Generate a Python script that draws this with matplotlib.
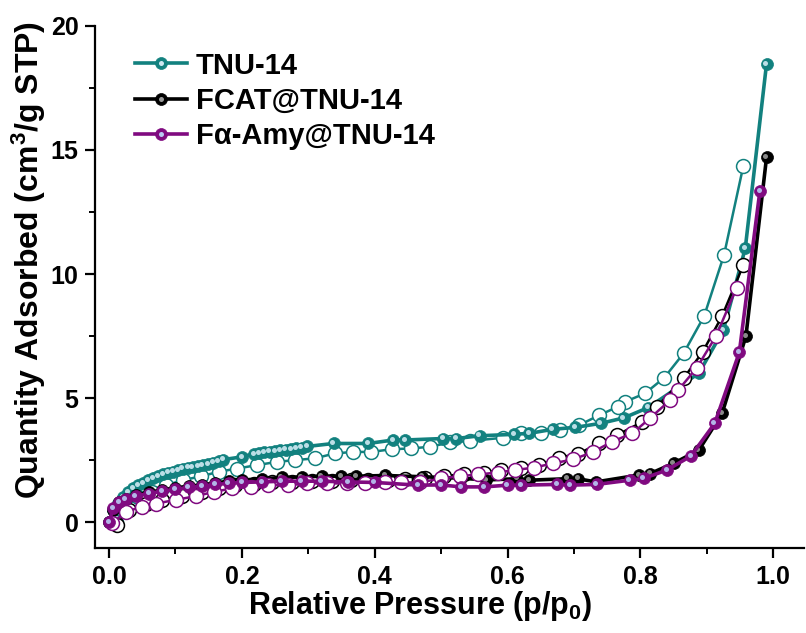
import matplotlib
matplotlib.use("Agg")
import matplotlib.pyplot as plt
from matplotlib.transforms import offset_copy
from matplotlib.legend_handler import HandlerTuple

plt.rcParams['font.family'] = ['Liberation Sans', 'DejaVu Sans']
plt.rcParams['font.weight'] = 'bold'
plt.rcParams['mathtext.fontset'] = 'custom'
plt.rcParams['mathtext.rm'] = 'Liberation Sans:bold'
plt.rcParams['mathtext.it'] = 'Liberation Sans:bold'
plt.rcParams['mathtext.bf'] = 'Liberation Sans:bold'

# ---- N2 sorption isotherms ----
# TNU-14
tnu_ads_p = [0.0, 0.006, 0.014, 0.021, 0.029, 0.036, 0.044, 0.051, 0.059, 0.066,
             0.074, 0.081, 0.089, 0.096, 0.104, 0.111, 0.119, 0.126, 0.134, 0.141,
             0.149, 0.157, 0.165, 0.172, 0.200, 0.218, 0.226, 0.234, 0.242, 0.250,
             0.258, 0.266, 0.274, 0.282, 0.290, 0.298, 0.338, 0.390, 0.428, 0.446,
             0.503, 0.523, 0.558, 0.610, 0.633, 0.668, 0.702, 0.740, 0.775, 0.812,
             0.888, 0.925, 0.958, 0.990]
tnu_ads_v = [0.0, 0.48, 0.78, 1.02, 1.22, 1.36, 1.49, 1.58, 1.69, 1.76,
             1.85, 1.92, 1.99, 2.04, 2.10, 2.15, 2.19, 2.22, 2.26, 2.30,
             2.35, 2.40, 2.45, 2.52, 2.63, 2.75, 2.78, 2.81, 2.84, 2.87,
             2.90, 2.92, 2.95, 2.97, 3.00, 3.05, 3.17, 3.17, 3.31, 3.31,
             3.37, 3.37, 3.48, 3.54, 3.58, 3.74, 3.82, 3.98, 4.20, 4.62,
             6.00, 7.74, 11.04, 18.47]
tnu_des_p = [0.955, 0.926, 0.896, 0.865, 0.836, 0.807, 0.777, 0.766, 0.738, 0.708,
             0.679, 0.651, 0.620, 0.593, 0.543, 0.513, 0.484, 0.455, 0.426, 0.395,
             0.368, 0.340, 0.310, 0.280, 0.253, 0.223, 0.193, 0.165, 0.139, 0.111,
             0.086, 0.064, 0.044, 0.024, 0.010]
tnu_des_v = [14.35, 10.77, 8.30, 6.80, 5.82, 5.19, 4.85, 4.65, 4.31, 3.91,
             3.71, 3.60, 3.58, 3.40, 3.27, 3.21, 3.04, 2.97, 2.94, 2.83,
             2.83, 2.77, 2.57, 2.50, 2.43, 2.30, 2.16, 2.03, 1.85, 1.69,
             1.49, 1.22, 1.00, 0.62, 0.00]

# FCAT@TNU-14
fcat_ads_p = [0.0, 0.006, 0.015, 0.025, 0.040, 0.060, 0.080, 0.100, 0.120, 0.140,
              0.160, 0.180, 0.200, 0.230, 0.260, 0.290, 0.320, 0.350, 0.372, 0.416,
              0.471, 0.530, 0.568, 0.615, 0.633, 0.690, 0.706, 0.733, 0.798, 0.815,
              0.850, 0.888, 0.923, 0.959, 0.990]
fcat_ads_v = [0.0, 0.50, 0.80, 0.95, 1.08, 1.20, 1.30, 1.38, 1.45, 1.50,
              1.58, 1.65, 1.70, 1.74, 1.80, 1.82, 1.85, 1.85, 1.85, 1.88,
              1.83, 1.77, 1.70, 1.75, 1.69, 1.75, 1.75, 1.62, 1.90, 1.96,
              2.37, 2.90, 4.38, 7.50, 14.70]
fcat_des_p = [0.955, 0.923, 0.894, 0.865, 0.825, 0.803, 0.765, 0.738, 0.706, 0.678,
              0.648, 0.620, 0.590, 0.565, 0.535, 0.505, 0.475, 0.445, 0.420, 0.390,
              0.365, 0.335, 0.305, 0.275, 0.245, 0.218, 0.190, 0.165, 0.140, 0.110,
              0.080, 0.055, 0.030, 0.012]
fcat_des_v = [10.36, 8.30, 6.87, 5.79, 4.65, 4.04, 3.51, 3.17, 2.75, 2.60,
              2.30, 2.20, 2.10, 2.00, 1.95, 1.85, 1.78, 1.72, 1.70, 1.70,
              1.68, 1.66, 1.66, 1.62, 1.60, 1.55, 1.50, 1.38, 1.22, 1.05,
              0.90, 0.75, 0.50, -0.10]

# Fα-Amy@TNU-14
amy_ads_p = [0.0, 0.006, 0.015, 0.025, 0.040, 0.060, 0.080, 0.100, 0.120, 0.140,
             0.160, 0.180, 0.200, 0.230, 0.260, 0.290, 0.320, 0.360, 0.400, 0.465,
             0.500, 0.530, 0.565, 0.600, 0.620, 0.675, 0.694, 0.734, 0.784, 0.805,
             0.840, 0.876, 0.912, 0.949, 0.980]
amy_ads_v = [0.0, 0.56, 0.80, 0.92, 1.05, 1.15, 1.25, 1.32, 1.40, 1.45,
             1.52, 1.56, 1.60, 1.62, 1.65, 1.65, 1.65, 1.62, 1.60, 1.49,
             1.50, 1.42, 1.42, 1.49, 1.49, 1.52, 1.49, 1.52, 1.69, 1.76,
             2.10, 2.66, 3.98, 6.84, 13.35]
amy_des_p = [0.945, 0.914, 0.885, 0.857, 0.845, 0.815, 0.788, 0.757, 0.729, 0.699,
             0.669, 0.640, 0.612, 0.585, 0.555, 0.528, 0.500, 0.468, 0.440, 0.415,
             0.385, 0.358, 0.328, 0.298, 0.270, 0.240, 0.213, 0.185, 0.158, 0.131,
             0.101, 0.071, 0.049, 0.026, 0.004]
amy_des_v = [9.45, 7.50, 6.22, 5.32, 4.92, 4.20, 3.58, 3.24, 2.83, 2.53,
             2.37, 2.20, 2.10, 2.00, 1.92, 1.85, 1.76, 1.60, 1.60, 1.60,
             1.56, 1.56, 1.56, 1.56, 1.49, 1.49, 1.42, 1.36, 1.22, 1.05,
             0.90, 0.75, 0.62, 0.42, -0.05]

series_labels = ['TNU-14', 'FCAT@TNU-14', 'F\u03b1-Amy@TNU-14']
teal, black, purple = '#12817f', '#000000', '#800a80'

fig = plt.figure(figsize=(8.06, 6.33), dpi=100)
ax = fig.add_axes([0.118, 0.134, 0.880, 0.825])

hl = offset_copy(ax.transData, fig=fig, x=-1.3, y=1.3, units='dots')


def draw(ads_p, ads_v, des_p, des_v, color, shine, z):
    ax.plot(des_p, des_v, '-', color=color, lw=1.8, marker='o', ms=10,
            mfc='white', mec=color, mew=1.1, zorder=z)
    main, = ax.plot(ads_p, ads_v, '-', color=color, lw=2.6, marker='o', ms=8.6,
                    mfc=color, mec=color, mew=0.5, zorder=z + 1)
    ax.plot(ads_p, ads_v, ls='none', marker='o', ms=3.6, mfc=shine, mec='none',
            alpha=0.9, transform=hl, zorder=z + 1.5)
    glint = ax.plot([], [], ls='none', marker='o', ms=3.6, mfc=shine, mec='none')[0]
    return (main, glint)


h1 = draw(tnu_ads_p, tnu_ads_v, tnu_des_p, tnu_des_v, teal, '#cfe9f2', 3)
h2 = draw(fcat_ads_p, fcat_ads_v, fcat_des_p, fcat_des_v, black, '#9a9a9a', 5)
h3 = draw(amy_ads_p, amy_ads_v, amy_des_p, amy_des_v, purple, '#b9c9f4', 7)

ax.set_xlim(-0.021, 1.047)
ax.set_ylim(-1.05, 20)
ax.set_xticks([0.0, 0.2, 0.4, 0.6, 0.8, 1.0])
ax.set_xticks([0.1, 0.3, 0.5, 0.7, 0.9], minor=True)
ax.set_yticks([0, 5, 10, 15, 20])
ax.set_yticks([2.5, 7.5, 12.5, 17.5], minor=True)
ax.set_xticklabels(['0.0', '0.2', '0.4', '0.6', '0.8', '1.0'])

for s in ('top', 'right'):
    ax.spines[s].set_visible(False)
for s in ('left', 'bottom'):
    ax.spines[s].set_linewidth(1.6)
ax.tick_params(which='major', direction='out', length=7, width=1.6,
               labelsize=18, pad=5)
ax.tick_params(which='minor', direction='out', length=4.5, width=1.4)
for lab in ax.get_xticklabels() + ax.get_yticklabels():
    lab.set_fontweight('bold')

ax.set_xlabel('Relative Pressure (p/p$_0$)', fontsize=22, fontweight='bold')
ax.set_ylabel('Quantity Adsorbed (cm$^3$/g STP)', fontsize=23, fontweight='bold')
ax.xaxis.set_label_coords(0.458, -0.078)
ax.yaxis.set_label_coords(-0.067, 0.552)

leg = ax.legend([h1, h2, h3], series_labels, handler_map={tuple: HandlerTuple(ndivide=1)},
                loc='upper left', bbox_to_anchor=(0.027, 0.99), frameon=False,
                prop={'size': 21, 'weight': 'bold'}, handlelength=1.8,
                handletextpad=0.3, labelspacing=0.25, borderaxespad=0.3)

fig.savefig('out.png', dpi=100)
